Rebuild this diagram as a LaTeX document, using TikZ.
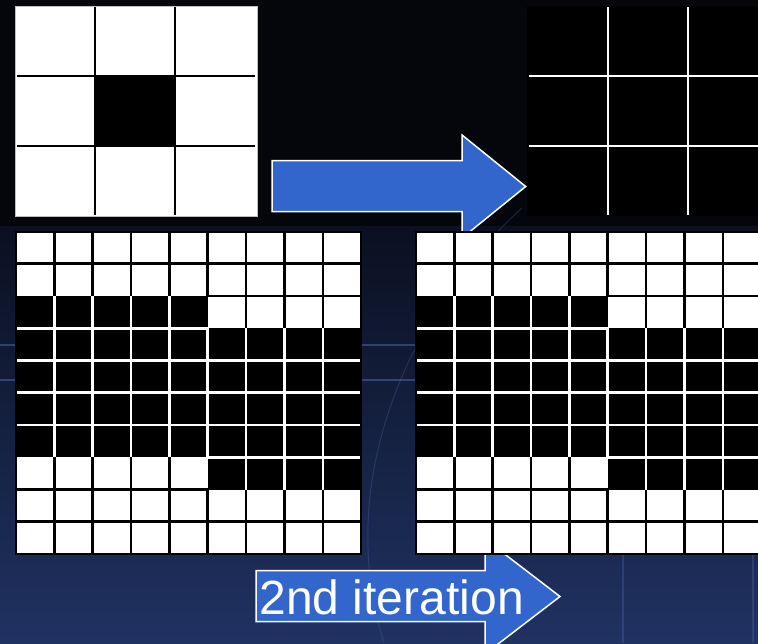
\documentclass[tikz,border=0pt]{standalone}
\usepackage{fontspec}
\setmainfont{Liberation Sans}
\usepackage{tikz}
\usetikzlibrary{positioning}

\definecolor{arrowblue}{HTML}{3366CC}
\definecolor{bgdark}{HTML}{05060C}
\definecolor{bgmid}{HTML}{0A1020}
\definecolor{bgnavy}{HTML}{203262}
\definecolor{streak}{HTML}{4A66A8}

% 大网格的格子尺寸 (10 行 9 列)
\newcommand{\cellw}{38.35}
\newcommand{\cellh}{32.25}
% 黑格判断: 1 = 黑, 0 = 白
\newcommand{\isblk}[2]{((#2)>=4)*((#2)<=7)+((#2)==3)*((#1)<=5)+((#2)==8)*((#1)>=6)}

\newcommand{\bigpattern}[2]{%
  % 填充格子
  \foreach \r in {1,...,10}{
    \foreach \c in {1,...,9}{
      \pgfmathtruncatemacro\cb{\isblk{\c}{\r}}
      \ifnum\cb=1 \def\cc{black}\else\def\cc{white}\fi
      \fill[\cc] ({#1+(\c-1)*\cellw},{#2+(\r-1)*\cellh}) rectangle ++(\cellw,\cellh);
    }
  }
  % 格线: 同色相邻格子之间画反色线
  \foreach \r in {1,...,10}{
    \foreach \c in {1,...,9}{
      \pgfmathtruncatemacro\cb{\isblk{\c}{\r}}
      \ifnum\cb=1 \def\lc{white}\else\def\lc{black}\fi
      \ifnum\c<9
        \pgfmathtruncatemacro\cnext{\c+1}
        \pgfmathtruncatemacro\cn{\isblk{\cnext}{\r}}
        \ifnum\cn=\cb
          \draw[gridline,\lc] ({#1+\c*\cellw},{#2+(\r-1)*\cellh}) -- ++(0,\cellh);
        \fi
      \fi
      \ifnum\r<10
        \pgfmathtruncatemacro\rnext{\r+1}
        \pgfmathtruncatemacro\rn{\isblk{\c}{\rnext}}
        \ifnum\rn=\cb
          \draw[gridline,\lc] ({#1+(\c-1)*\cellw},{#2+\r*\cellh}) -- ++(\cellw,0);
        \fi
      \fi
    }
  }
  % 外框
  \draw[black,line width=2pt] (#1,#2) rectangle ++({9*\cellw},{10*\cellh});
}

\begin{document}
\begin{tikzpicture}[x=1pt,y=-1pt]
    % 设置样式
    \tikzstyle{gridline}=[line width=2.6pt]
    \tikzstyle{smallline}=[line width=2.4pt]
    \tikzstyle{blockarrow}=[fill=arrowblue,draw=white,line width=1.5pt,line join=miter]
    \tikzstyle{streakline}=[streak,line width=1.2pt,opacity=0.55]

    \useasboundingbox (0,0) rectangle (758,643);
    \clip (0,0) rectangle (758,643);

    % 背景
    \fill[bgdark] (0,0) rectangle (758,643);
    \shade[top color=bgmid,bottom color=bgnavy] (0,226) rectangle (758,643);
    \draw[streakline] (0,345) -- (758,345);
    \draw[streakline] (0,380) -- (758,380);
    \draw[streakline,opacity=0.35] (623,555) -- (623,643);
    \draw[streakline,opacity=0.35] (753,555) -- (753,643);
    \draw[streakline,opacity=0.3,line width=1pt] (522,208) .. controls (420,300) and (330,470) .. (384,643);

    % 箭头
    \draw[blockarrow] (272,160.7) -- (462,160.7) -- (462,135) -- (525.7,186.5)
        -- (462,238) -- (462,211.7) -- (272,211.7) -- cycle;
    \draw[blockarrow] (256,570.7) -- (485,570.7) -- (485,539) -- (560,596.5)
        -- (485,654) -- (485,621.7) -- (256,621.7) -- cycle;
    \node[text=white,inner sep=0pt,anchor=base,font=\fontsize{48}{52}\selectfont]
        (iterlabel) at (391.7,614.5) {2nd iteration};

    % 小网格 (白底, 黑心)
    \fill[white,draw=gray!50,line width=0.6pt] (15,6) rectangle (257,216);
    \fill[black] (95,76) rectangle (175,146);
    \foreach \x in {95,175}
        \draw[smallline,black] (\x,7) -- (\x,215);
    \foreach \y in {76,146}
        \draw[smallline,black] (17,\y) -- (255,\y);

    % 小网格 (黑底, 白线)
    \fill[black] (527,6) rectangle (770,216);
    \foreach \x in {608,688}
        \draw[smallline,white,line width=2pt] (\x,7) -- (\x,215);
    \foreach \y in {76,146}
        \draw[smallline,white,line width=2pt] (529,\y) -- (770,\y);

    % 大网格
    \bigpattern{16}{231.5}
    \bigpattern{416}{231.5}
\end{tikzpicture}
\end{document}
